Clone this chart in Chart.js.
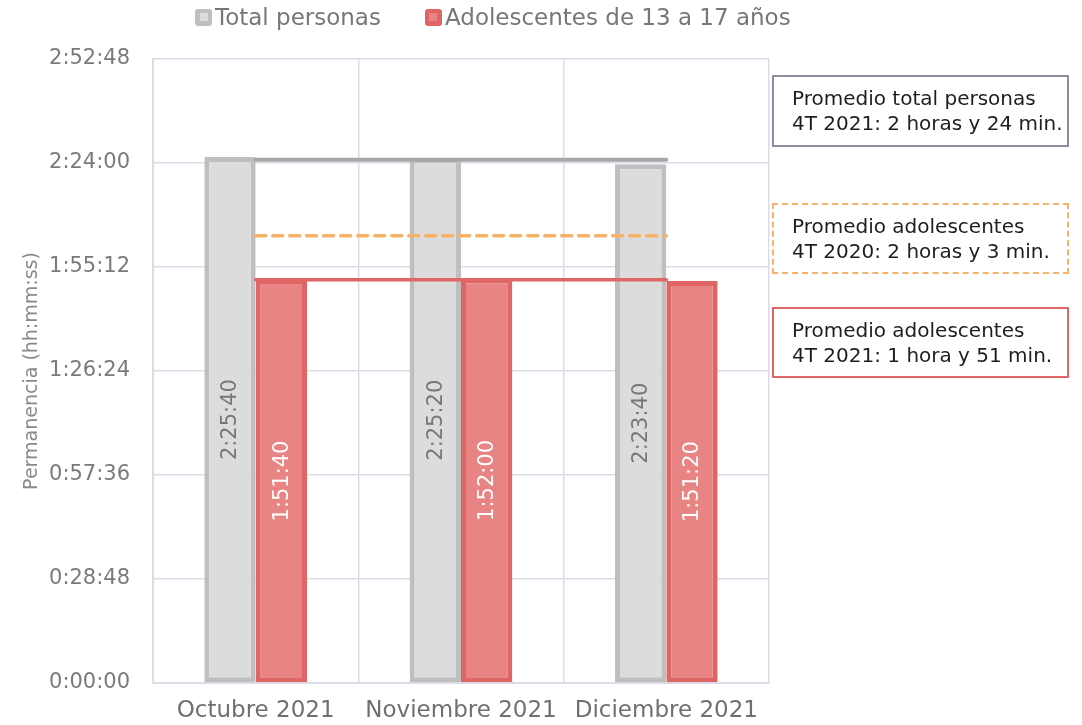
<!DOCTYPE html>
<html lang="es">
<head>
<meta charset="utf-8">
<title>Permanencia por persona</title>
<script src="https://cdn.jsdelivr.net/npm/chart.js@4/dist/chart.umd.min.js"></script>
<style>
  body { margin: 0; background: #fff; font-family: "DejaVu Sans", sans-serif; }
  #wrap { position: relative; width: 1082px; height: 725px; }
  #box { position: absolute; left: 0; top: 0; width: 990px; height: 725px; }
  .legend { position: absolute; top: 4px; left: 195px; display: flex; align-items: center; font-size: 23px; color: #777; white-space: nowrap; }
  .legend .item { display: flex; align-items: center; margin-right: 44px; }
  .legend .sw { width: 17px; height: 17px; border-radius: 3px; margin-right: 3px; display: flex; align-items: center; justify-content: center; }
  .legend .sw i { display: block; width: 8px; height: 8px; }
  .note { position: absolute; left: 772px; width: 297px; box-sizing: border-box; padding: 9px 0 0 18px; font-size: 20px; line-height: 25px; color: #1e1e1e; white-space: nowrap; }
</style>
</head>
<body>
<div id="wrap">
  <div id="box"><canvas id="chart"></canvas></div>
  <div class="legend" id="legend"></div>
  <div class="note" style="top: 75px; height: 72px; border: 2px solid #8e8e9a;">Promedio total personas<br>4T 2021: 2 horas y 24 min.</div>
  <div class="note" style="top: 203px; height: 71px; border: 2px dashed #f6b26b;">Promedio adolescentes<br>4T 2020: 2 horas y 3 min.</div>
  <div class="note" style="top: 307px; height: 71px; border: 2px solid #e06666;">Promedio adolescentes<br>4T 2021: 1 hora y 51 min.</div>
</div>
<script>
// Data (all values in seconds)
const CATEGORIES = ['Octubre 2021', 'Noviembre 2021', 'Diciembre 2021']
const SERIES_NAMES = ['Total personas', 'Adolescentes de 13 a 17 años']
const TOTAL_SECONDS = [8740, 8720, 8620]
const TEEN_SECONDS = [6700, 6720, 6680]
const AVG_TOTAL_2021 = [8693, 8693, 8693]
const AVG_TEEN_2020 = [7430, 7430, 7430]
const AVG_TEEN_2021 = [6700, 6700, 6700]
const Y_MAX = 10368
const Y_STEP = 1728

const FONT = '"DejaVu Sans", sans-serif'
const COLORS = {
  greyFill: '#dcdcdc',
  greyBorder: '#bfbfbf',
  greyLine: '#a6a6a6',
  redFill: '#e88484',
  redBorder: '#e06666',
  orange: '#f6b26b',
  grid: '#dcdce8',
  tick: '#7a7a7a'
}

/**
 * Seconds => "h:mm:ss"
 */
function toClock (value) {
  const h = Math.floor(value / 3600)
  const m = Math.floor((value % 3600) / 60)
  const s = Math.round(value % 60)
  const pad = (n) => (n < 10 ? `0${n}` : `${n}`)
  return `${h}:${pad(m)}:${pad(s)}`
}

/**
 * Vertical value labels centered inside each bar.
 */
const barLabels = {
  id: 'barLabels',
  afterDatasetsDraw (chart) {
    const ctx = chart.ctx
    chart.data.datasets.forEach((ds, i) => {
      if (ds.type !== 'bar') return
      const meta = chart.getDatasetMeta(i)
      meta.data.forEach((bar, j) => {
        const yMid = (bar.y + bar.base) / 2
        ctx.save()
        ctx.translate(bar.x + 1, yMid)
        ctx.rotate(-Math.PI / 2)
        ctx.font = `21px ${FONT}`
        ctx.fillStyle = ds.labelColor
        ctx.textAlign = 'center'
        ctx.textBaseline = 'middle'
        ctx.fillText(toClock(ds.data[j]), 0, 0)
        ctx.restore()
      })
    })
  }
}
// ---------------------------------------------------------------------------

function buildLegend () {
  const swatches = [
    [COLORS.greyBorder, COLORS.greyFill],
    [COLORS.redBorder, COLORS.redFill]
  ]
  const el = document.getElementById('legend')
  SERIES_NAMES.forEach((name, i) => {
    const item = document.createElement('div')
    item.className = 'item'
    item.innerHTML = `<span class="sw" style="background:${swatches[i][0]}"><i style="background:${swatches[i][1]}"></i></span><span>${name}</span>`
    el.appendChild(item)
  })
}

const lineDataset = (data, color, width, dash) => ({
  type: 'line',
  data: data,
  borderColor: color,
  borderWidth: width,
  borderDash: dash,
  borderCapStyle: 'round',
  pointRadius: 0,
  fill: false,
  order: 0
})

buildLegend()

new Chart(document.getElementById('chart'), {
  type: 'bar',
  data: {
    labels: CATEGORIES,
    datasets: [
      lineDataset(AVG_TOTAL_2021, COLORS.greyLine, 4, []),
      lineDataset(AVG_TEEN_2020, COLORS.orange, 3.5, [10, 7]),
      lineDataset(AVG_TEEN_2021, COLORS.redBorder, 3.5, []),
      {
        type: 'bar',
        label: SERIES_NAMES[0],
        data: TOTAL_SECONDS,
        backgroundColor: COLORS.greyFill,
        borderColor: COLORS.greyBorder,
        borderWidth: 5,
        borderSkipped: false,
        labelColor: '#777',
        order: 1
      },
      {
        type: 'bar',
        label: SERIES_NAMES[1],
        data: TEEN_SECONDS,
        backgroundColor: COLORS.redFill,
        borderColor: COLORS.redBorder,
        borderWidth: 5,
        borderSkipped: false,
        labelColor: '#fff',
        order: 1
      }
    ]
  },
  options: {
    responsive: true,
    maintainAspectRatio: false,
    animation: false,
    layout: { padding: { top: 59, right: 221, left: 0, bottom: 0 } },
    datasets: { bar: { categoryPercentage: 0.5, barPercentage: 1 } },
    plugins: { legend: { display: false }, tooltip: { enabled: false } },
    scales: {
      x: {
        grid: { color: COLORS.grid, lineWidth: 1.5, drawTicks: false },
        border: { color: COLORS.grid, width: 2 },
        ticks: { color: '#707070', font: { family: FONT, size: 23 }, padding: 14 },
        afterFit: (scale) => { scale.height = 42 }
      },
      y: {
        min: 0,
        max: Y_MAX,
        grid: { color: COLORS.grid, lineWidth: 1.5, drawTicks: false },
        border: { color: COLORS.grid, width: 2 },
        ticks: {
          stepSize: Y_STEP,
          color: COLORS.tick,
          font: { family: FONT, size: 21 },
          padding: 23,
          callback: (value) => toClock(value)
        },
        title: {
          display: true,
          text: 'Permanencia (hh:mm:ss)',
          color: '#8a8a8a',
          font: { family: FONT, size: 19 },
          padding: { top: 21, bottom: 0 }
        },
        afterFit: (scale) => { scale.width = 153 }
      }
    }
  },
  plugins: [barLabels]
})
</script>
</body>
</html>
